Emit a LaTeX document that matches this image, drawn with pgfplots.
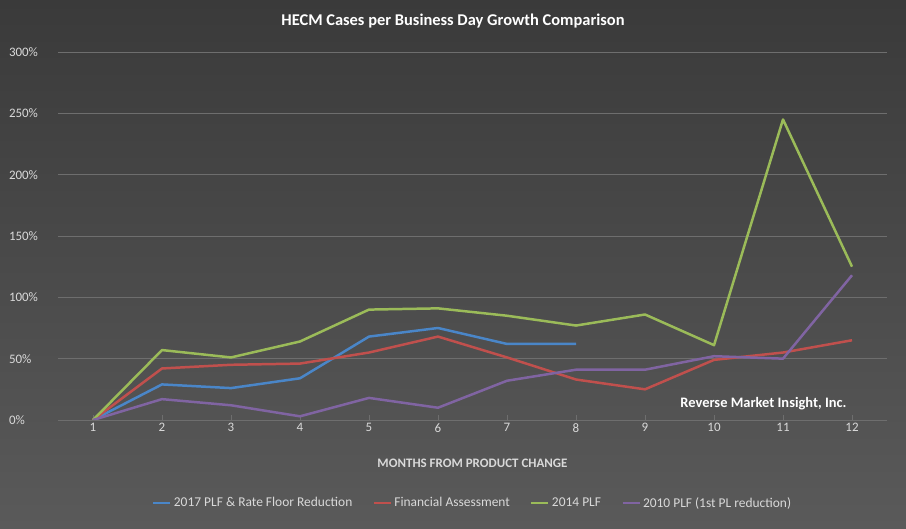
\documentclass[border=0pt]{standalone}
\usepackage{pgfplots}
\pgfplotsset{compat=1.18}
\usepackage{fontspec}
\setmainfont{Carlito}
\definecolor{bgtop}{HTML}{3A3A3A}
\definecolor{bgbot}{HTML}{5A5A5A}
\definecolor{txt}{HTML}{D9D9D9}
\definecolor{gridc}{HTML}{6E6E6E}
\definecolor{cb}{HTML}{4A86C8}
\definecolor{cr}{HTML}{C0504D}
\definecolor{cg}{HTML}{9BBB59}
\definecolor{cp}{HTML}{8064A2}
\begin{document}
\begin{tikzpicture}[x=1bp,y=1bp]
\shade[top color=bgtop,bottom color=bgbot] (-58.5,-109) rectangle (847.5,420);
\node[text=white,font=\bfseries\fontsize{16.5}{19}\selectfont] at (394.5,399) {HECM Cases per Business Day Growth Comparison};
\node[text=txt,font=\bfseries\fontsize{13}{15}\selectfont] at (414,-43) {MONTHS FROM PRODUCT CHANGE};
\node[text=white,font=\bfseries\fontsize{14.5}{17}\selectfont] at (705,16) {Reverse Market Insight, Inc.};
\begin{axis}[at={(0,0)},anchor=origin,scale only axis,width=828bp,height=368bp,
 xmin=0.5,xmax=12.5,ymin=0,ymax=300,
 xtick={1,...,12},ytick={0,50,...,300},
 yticklabel={\pgfmathprintnumber{\tick}\%},
 /pgf/number format/assume math mode=true,
 xmajorgrids=false,ymajorgrids=true,
 y grid style={draw=gridc,line width=0.8pt},
 axis line style={draw=none},
 axis x line*=bottom, x axis line style={draw=gridc,line width=0.8pt},
 major tick length=5pt,
 xtick style={draw=gridc},ytick style={draw=none},
 ticklabel style={text=txt,font=\fontsize{13}{15}\selectfont},
 yticklabel style={anchor=west,xshift=-53bp},
 legend columns=4,
 legend style={at={(0.5,0)},anchor=center,yshift=-83bp,draw=none,fill=none,
   text=txt,font=\fontsize{13.5}{15}\selectfont,
   /tikz/every even column/.append style={column sep=18bp}},
 legend image code/.code={\draw[#1,line width=3pt] (0,0) -- (0.6cm,0);},
 every axis plot/.append style={line width=2.5pt,line join=round}
]
\addplot[cb] coordinates {(1,0)(2,29)(3,26)(4,34)(5,68)(6,75)(7,62)(8,62)};
\addlegendentry{2017 PLF \& Rate Floor Reduction}
\addplot[cr] coordinates {(1,0)(2,42)(3,45)(4,46)(5,55)(6,68)(7,51)(8,33)(9,25)(10,49)(11,55)(12,65)};
\addlegendentry{Financial Assessment}
\addplot[cg] coordinates {(1,0)(2,57)(3,51)(4,64)(5,90)(6,91)(7,85)(8,77)(9,86)(10,61)(11,245)(12,125)};
\addlegendentry{2014 PLF}
\addplot[cp] coordinates {(1,0)(2,17)(3,12)(4,3)(5,18)(6,10)(7,32)(8,41)(9,41)(10,52)(11,50)(12,118)};
\addlegendentry{2010 PLF (1st PL reduction)}
\end{axis}
\end{tikzpicture}
\end{document}
